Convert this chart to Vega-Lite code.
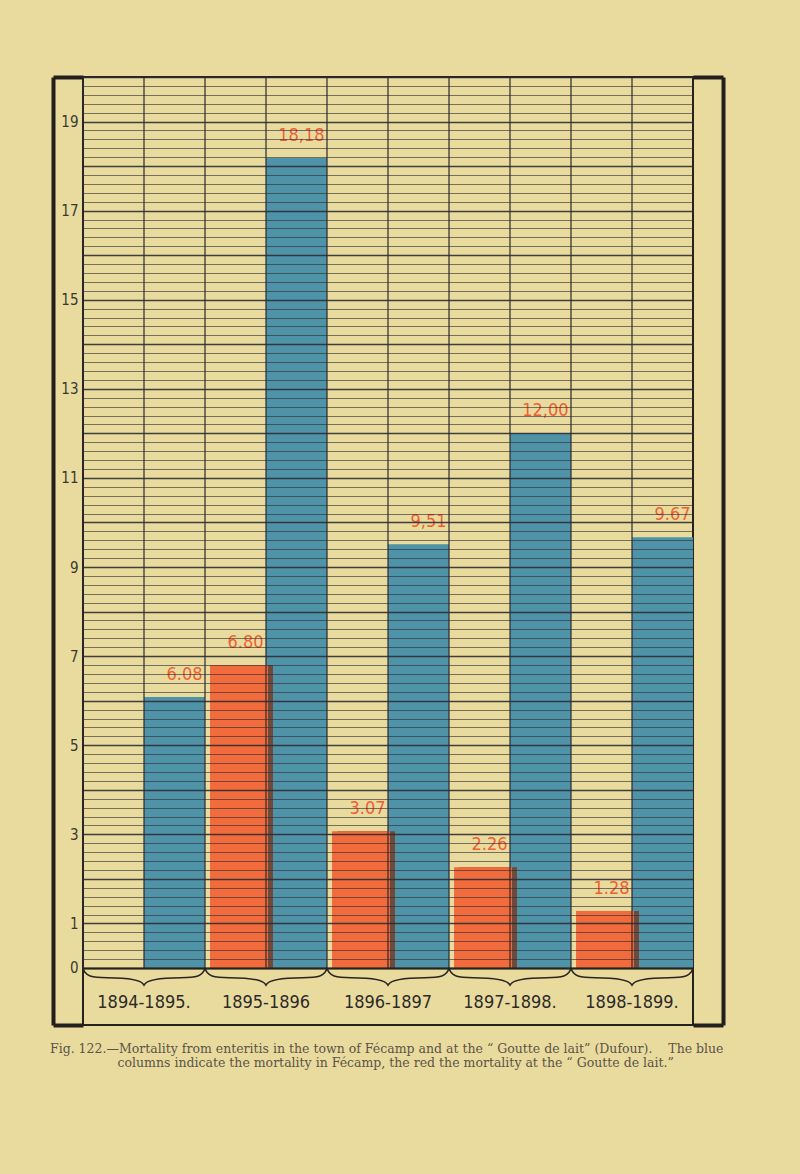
{
  "$schema": "https://vega.github.io/schema/vega-lite/v6.json",
  "width": 610,
  "height": 948,
  "autosize": {"type": "none"},
  "padding": {"left": 83, "top": 77, "right": 107, "bottom": 149},
  "background": "#e9db9d",
  "config": {"view": {"stroke": "#26221f", "strokeWidth": 2, "fill": null}},
  "title": {
    "text": "Fig. 122.—Mortality from enteritis in the town of Fécamp and at the “ Goutte de lait” (Dufour).\u00a0\u00a0\u00a0 The blue",
    "subtitle": "\u200b\u00a0\u00a0\u00a0\u00a0\u00a0\u00a0\u00a0\u00a0\u00a0\u00a0\u00a0\u00a0\u00a0\u00a0\u00a0\u00a0\u00a0columns indicate the mortality in Fécamp, the red the mortality at the “ Goutte de lait.”",
    "orient": "bottom",
    "anchor": "start",
    "frame": "group",
    "offset": 14,
    "dx": -33,
    "font": "DejaVu Serif",
    "fontSize": 12.5,
    "fontWeight": "normal",
    "color": "#5c5349",
    "subtitleFont": "DejaVu Serif",
    "subtitleFontSize": 12.5,
    "subtitleColor": "#5c5349",
    "subtitlePadding": 1
  },
  "data": {
    "values": [
      {"period": "1894-1895.", "series": "Fécamp", "value": 6.08, "label": "6.08"},
      {"period": "1895-1896", "series": "Goutte de lait", "value": 6.80, "label": "6.80"},
      {"period": "1895-1896", "series": "Fécamp", "value": 18.18, "label": "18,18"},
      {"period": "1896-1897", "series": "Goutte de lait", "value": 3.07, "label": "3.07"},
      {"period": "1896-1897", "series": "Fécamp", "value": 9.51, "label": "9,51"},
      {"period": "1897-1898.", "series": "Goutte de lait", "value": 2.26, "label": "2.26"},
      {"period": "1897-1898.", "series": "Fécamp", "value": 12.00, "label": "12,00"},
      {"period": "1898-1899.", "series": "Goutte de lait", "value": 1.28, "label": "1.28"},
      {"period": "1898-1899.", "series": "Fécamp", "value": 9.67, "label": "9.67"}
    ]
  },
  "layer": [
    {
      "layer": [
        {
          "transform": [{"filter": "datum.series == 'Fécamp'"}],
          "mark": {"type": "bar", "color": "#4f93a9"},
          "encoding": {
            "x": {
              "field": "period", "type": "nominal", "sort": null,
              "scale": {"paddingInner": 0, "paddingOuter": 0},
              "axis": {
                "orient": "bottom", "offset": -57, "title": null,
                "domain": true, "domainWidth": 2, "domainColor": "#26221f",
                "ticks": false, "grid": false, "labelAngle": 0,
                "labelFont": "DejaVu Sans Condensed", "labelFontSize": 18,
                "labelColor": "#2c2a2a", "labelPadding": 25, "zindex": 1
              }
            },
            "xOffset": {"field": "series", "type": "nominal", "scale": {"domain": ["Goutte de lait", "Fécamp"], "paddingInner": 0, "paddingOuter": 0}},
            "y": {
              "field": "value", "type": "quantitative",
              "scale": {"domain": [-1.28, 20], "nice": false, "zero": false},
              "axis": {
                "title": null, "domain": false, "ticks": false,
                "tickCount": 100, "labelOverlap": false, "labelBound": false, "labelFlush": false,
                "labelExpr": "datum.value == 0 || (datum.value > 0 && datum.value % 2 == 1) ? '' + datum.value : ''",
                "labelFont": "DejaVu Sans Condensed", "labelFontSize": 15, "labelColor": "#3a3834", "labelPadding": 5,
                "grid": true, "gridColor": "#2e2c33",
                "gridWidth": {"condition": {"test": "datum.value % 1 == 0", "value": 1.4}, "value": 0.7},
                "gridOpacity": {"condition": {"test": "datum.value < 0", "value": 0}, "value": 0.9},
                "zindex": 1
              }
            },
            "y2": {"datum": 0}
          }
        },
        {
          "transform": [{"filter": "datum.series == 'Goutte de lait'"}],
          "mark": {"type": "bar", "color": "#6f4a3a", "width": {"band": 0.475}, "xOffset": -22},
          "encoding": {
            "x": {"field": "period", "type": "nominal", "sort": null},
            "y": {"field": "value", "type": "quantitative"},
            "y2": {"datum": 0}
          }
        },
        {
          "transform": [{"filter": "datum.series == 'Goutte de lait'"}],
          "mark": {"type": "bar", "color": "#f26b3d", "width": {"band": 0.475}, "xOffset": -27},
          "encoding": {
            "x": {"field": "period", "type": "nominal", "sort": null},
            "y": {"field": "value", "type": "quantitative"},
            "y2": {"datum": 0}
          }
        },
        {
          "transform": [{"filter": "datum.series == 'Fécamp'"}],
          "mark": {"type": "rule", "color": "#2b2a30", "strokeWidth": 1.2},
          "encoding": {
            "x": {"field": "period", "type": "nominal", "sort": null, "bandPosition": 0},
            "y": {"datum": 20},
            "y2": {"datum": 0}
          }
        },
        {
          "transform": [{"filter": "datum.series == 'Fécamp'"}],
          "mark": {"type": "rule", "color": "#2b2a30", "strokeWidth": 1.2},
          "encoding": {
            "x": {"field": "period", "type": "nominal", "sort": null, "bandPosition": 0.5},
            "y": {"datum": 20},
            "y2": {"datum": 0}
          }
        },
        {
          "transform": [{"filter": "datum.series == 'Fécamp'"}],
          "mark": {
            "type": "point",
            "shape": "M -1 -0.14 C -0.97 0 -0.85 0.02 -0.6 0.02 C -0.3 0.02 -0.05 0.04 0 0.14 C 0.05 0.04 0.3 0.02 0.6 0.02 C 0.85 0.02 0.97 0 1 -0.14",
            "size": 14884, "filled": false, "stroke": "#2b2522", "strokeWidth": 1.6,
            "opacity": 1, "yOffset": 8.5
          },
          "encoding": {
            "x": {"field": "period", "type": "nominal", "sort": null},
            "y": {"datum": 0}
          }
        },
        {
          "mark": {
            "type": "text", "align": "right", "baseline": "alphabetic",
            "dx": 28, "dy": -17, "font": "DejaVu Sans Condensed", "fontSize": 18, "color": "#ef5f35"
          },
          "encoding": {
            "x": {"field": "period", "type": "nominal", "sort": null},
            "xOffset": {"field": "series", "type": "nominal"},
            "y": {"field": "value", "type": "quantitative"},
            "text": {"field": "label", "type": "nominal"}
          }
        }
      ]
    },
    {
      "mark": {"type": "point", "opacity": 0},
      "encoding": {
        "y": {
          "datum": 0, "type": "quantitative",
          "scale": {"domain": [-1.28, 20], "nice": false, "zero": false},
          "axis": {
            "orient": "left", "offset": 30, "title": null, "labels": false, "grid": false,
            "domain": true, "domainWidth": 4, "domainColor": "#231f1c",
            "ticks": true, "values": [-1.28, 20], "tickSize": -30, "tickWidth": 4, "tickColor": "#231f1c"
          }
        }
      }
    },
    {
      "mark": {"type": "point", "opacity": 0},
      "encoding": {
        "y": {
          "datum": 0, "type": "quantitative",
          "scale": {"domain": [-1.28, 20], "nice": false, "zero": false},
          "axis": {
            "orient": "right", "offset": 30, "title": null, "labels": false, "grid": false,
            "domain": true, "domainWidth": 4, "domainColor": "#231f1c",
            "ticks": true, "values": [-1.28, 20], "tickSize": -30, "tickWidth": 4, "tickColor": "#231f1c"
          }
        }
      }
    }
  ],
  "resolve": {"scale": {"y": "independent"}}
}
